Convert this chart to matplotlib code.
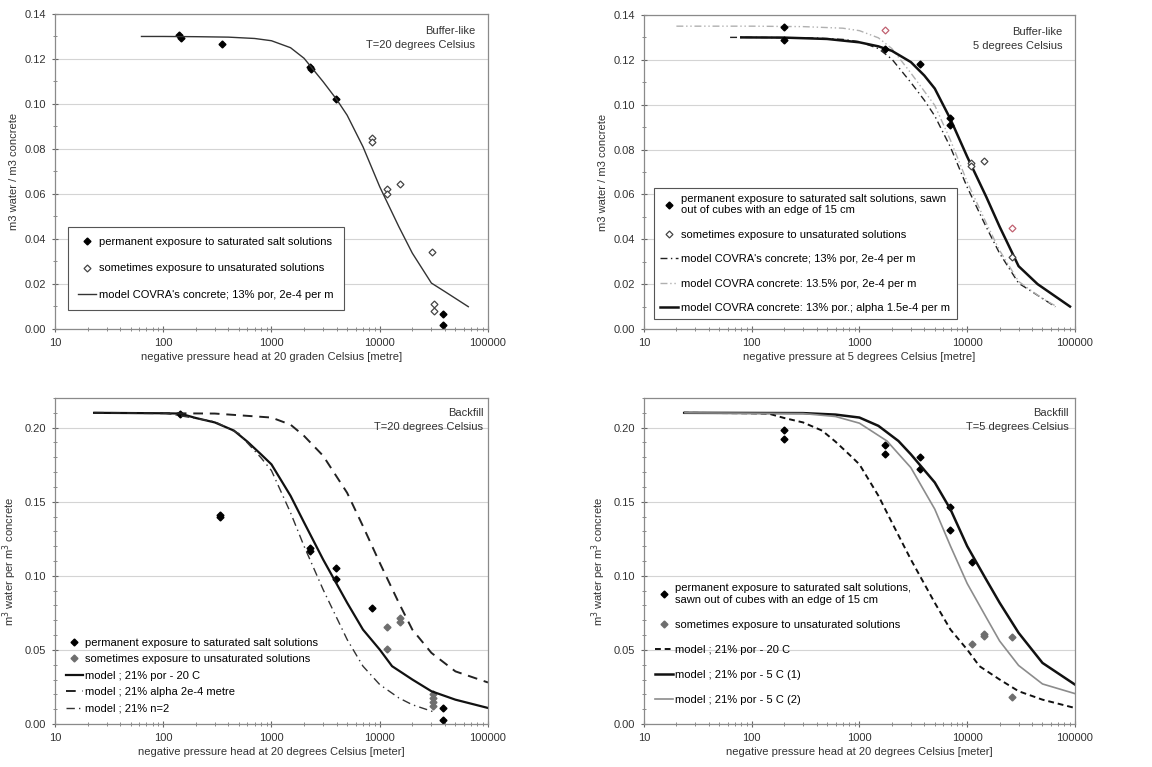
import numpy as np
import matplotlib
matplotlib.use("Agg")
import matplotlib.pyplot as plt
from matplotlib.ticker import FixedLocator, FuncFormatter, MultipleLocator, LogLocator, NullFormatter

plt.rcParams["font.family"] = ["Liberation Sans", "DejaVu Sans"]
plt.rcParams["font.size"] = 8

# --- buffer-like concrete, 20 C ---
tl_perm_h = [140, 146, 347, 2270, 2300, 3945, 38600, 38600]
tl_perm_t = [0.1305, 0.1295, 0.1267, 0.1165, 0.1155, 0.1021, 0.0065, 0.0018]
tl_some_h = [8420, 8420, 11580, 11580, 15380, 30200, 31900, 31900]
tl_some_t = [0.085, 0.083, 0.062, 0.060, 0.0645, 0.0344, 0.011, 0.008]

# model COVRA's concrete; 13% por, 2e-4 per m
m13_h = [63, 100, 200, 400, 700, 1000, 1500, 2000, 3000, 4000, 5000, 7000,
         10000, 15000, 20000, 30000, 40000, 65800]
m13_t = [0.1300, 0.1300, 0.1299, 0.1297, 0.1291, 0.1281, 0.1250, 0.1203, 0.1099,
         0.1020, 0.0950, 0.0810, 0.0632, 0.0455, 0.0337, 0.0204, 0.0166, 0.0099]

# --- buffer-like concrete, 5 C ---
tr_perm_h = [200, 200, 1740, 3670, 6970, 6970]
tr_perm_t = [0.1345, 0.1288, 0.1247, 0.1180, 0.0940, 0.0910]
tr_some_h = [10830, 10830, 14220, 25800]
tr_some_t = [0.0742, 0.0725, 0.0750, 0.0322]
tr_red_h = [1740, 25800]
tr_red_t = [0.1335, 0.0450]

m135_h = [20, 100, 300, 700, 1000, 1500, 2000, 3000, 5000, 7000, 10000, 15000,
          20000, 30000, 50000, 66000]
m135_t = [0.1350, 0.1350, 0.1348, 0.1341, 0.1330, 0.1298, 0.1250, 0.1141, 0.0997,
          0.0841, 0.0656, 0.0473, 0.0350, 0.0212, 0.0135, 0.0103]

m13a_h = [80, 200, 500, 1000, 1500, 2000, 3000, 4000, 5000, 7000, 10000, 15000,
          20000, 30000, 45000, 90000]
m13a_t = [0.1300, 0.1299, 0.1293, 0.1278, 0.1260, 0.1240, 0.1190, 0.1130, 0.1072,
          0.0935, 0.0768, 0.0590, 0.0456, 0.0280, 0.0200, 0.0100]

# --- backfill, 20 C ---
bl_perm_h = [143, 334, 334, 2270, 2270, 3945, 3945, 8530, 38600, 38600]
bl_perm_t = [0.2095, 0.1410, 0.1395, 0.1190, 0.1168, 0.1050, 0.0980, 0.0782, 0.0108, 0.0025]
bl_some_h = [11580, 11580, 15380, 15380, 31300, 31300, 31300, 31300]
bl_some_t = [0.0655, 0.0507, 0.0716, 0.0687, 0.0205, 0.0175, 0.0145, 0.0120]

# model ; 21% por - 20 C
m21_h = [23, 100, 143, 200, 300, 450, 600, 800, 1000, 1500, 2000, 3000, 5000, 7000,
         10000, 13000, 20000, 30000, 50000, 100000]
m21_t = [0.2100, 0.2097, 0.2095, 0.2065, 0.2035, 0.1980, 0.1905, 0.1820, 0.1752,
         0.1540, 0.1360, 0.1110, 0.0818, 0.0637, 0.0502, 0.0390, 0.0300, 0.0221,
         0.0164, 0.0108]

m21a_h = [23, 300, 1000, 1500, 2000, 3000, 5000, 7000, 10000, 15000, 20000, 30000,
          50000, 100000]
m21a_t = [0.2100, 0.2095, 0.2068, 0.2020, 0.1944, 0.1810, 0.1560, 0.1335, 0.1088,
          0.0818, 0.0637, 0.0480, 0.0355, 0.0280]

m21n_h = [100, 300, 500, 800, 1000, 1500, 2000, 3000, 5000, 7000, 10000, 15000,
          20000, 32000]
m21n_t = [0.2100, 0.2040, 0.1960, 0.1797, 0.1710, 0.1426, 0.1200, 0.0907, 0.0570,
          0.0390, 0.0266, 0.0176, 0.0130, 0.0080]

# --- backfill, 5 C ---
br_perm_h = [200, 200, 1740, 1740, 3670, 3670, 6970, 6970, 11070]
br_perm_t = [0.1982, 0.1926, 0.1880, 0.1824, 0.1804, 0.1723, 0.1466, 0.1309, 0.1093]
br_some_h = [11070, 14220, 14220, 25800, 25800]
br_some_t = [0.0543, 0.0605, 0.0595, 0.0588, 0.0180]

m5a_h = [24, 300, 600, 1000, 1500, 2300, 3000, 5000, 7000, 10000, 15000, 20000,
         30000, 50000, 100000]
m5a_t = [0.2100, 0.2098, 0.2088, 0.2068, 0.2012, 0.1910, 0.1820, 0.1630, 0.1448,
         0.1200, 0.0975, 0.0818, 0.0615, 0.0412, 0.0266]

m5b_h = [24, 300, 600, 1000, 1800, 3000, 5000, 7000, 10000, 15000, 20000, 30000,
         50000, 100000]
m5b_t = [0.2100, 0.2095, 0.2075, 0.2030, 0.1910, 0.1730, 0.1450, 0.1200, 0.0948,
         0.0720, 0.0560, 0.0395, 0.0270, 0.0205]

GRID = "#d4d4d4"
SPINE = "#8a8a8a"


def style_axes(ax, ymax, ystep, yminor, xlabel, ylabel):
    ax.set_xscale("log")
    ax.set_xlim(10, 100000)
    ax.set_ylim(0, ymax)
    ax.xaxis.set_major_locator(FixedLocator([10, 100, 1000, 10000, 100000]))
    ax.xaxis.set_major_formatter(FuncFormatter(lambda v, p: "%d" % v))
    ax.xaxis.set_minor_locator(LogLocator(base=10, subs=np.arange(2, 10)))
    ax.xaxis.set_minor_formatter(NullFormatter())
    ax.yaxis.set_major_locator(MultipleLocator(ystep))
    ax.yaxis.set_minor_locator(MultipleLocator(yminor))
    ax.yaxis.set_major_formatter(FuncFormatter(lambda v, p: "%.2f" % v))
    ax.grid(axis="y", which="major", color=GRID, lw=0.8)
    ax.set_axisbelow(True)
    for s in ax.spines.values():
        s.set_color(SPINE)
        s.set_linewidth(0.9)
    ax.tick_params(which="major", direction="inout", length=5, color="#666666",
                   labelsize=8, labelcolor="#333333", pad=4)
    ax.tick_params(which="minor", direction="inout", length=3, color="#777777")
    ax.set_xlabel(xlabel, fontsize=8, color="#333333", labelpad=3)
    ax.set_ylabel(ylabel, fontsize=8, color="#333333", labelpad=4)


fig = plt.figure(figsize=(11.52, 7.67), dpi=100)

ax_tl = fig.add_axes([0.0477, 0.5711, 0.3759, 0.4107])
ax_tr = fig.add_axes([0.5590, 0.5711, 0.3741, 0.4094])
ax_bl = fig.add_axes([0.0477, 0.0561, 0.3759, 0.4250])
ax_br = fig.add_axes([0.5590, 0.0561, 0.3741, 0.4250])

perm_kw = dict(ls="none", marker="D", ms=3.5, color="black")
open_kw = dict(ls="none", marker="D", ms=3.5, mfc="white", mec="#444444", mew=0.9)
grey_kw = dict(ls="none", marker="D", ms=3.5, color="#6e6e6e")

# top left
ax = ax_tl
style_axes(ax, 0.14, 0.02, 0.01,
           "negative pressure head at 20 graden Celsius [metre]",
           "m3 water / m3 concrete")
ax.plot(tl_perm_h, tl_perm_t, label="permanent exposure to saturated salt solutions", **perm_kw)
ax.plot(tl_some_h, tl_some_t, label="sometimes exposure to unsaturated solutions", **open_kw)
ax.plot(m13_h, m13_t, color="#333333", lw=1.0,
        label="model COVRA's concrete; 13% por, 2e-4 per m")
leg = ax.legend(loc="lower left", bbox_to_anchor=(0.018, 0.044), fancybox=False,
                edgecolor="#555555", fontsize=8, labelspacing=1.45, handlelength=1.6,
                handletextpad=0.3, borderpad=0.9, framealpha=1)
leg.get_frame().set_linewidth(0.8)
ax.text(0.97, 0.925, "Buffer-like\nT=20 degrees Celsius", transform=ax.transAxes,
        ha="right", va="center", fontsize=8, color="#333333", linespacing=1.5,
        multialignment="right")

# top right
ax = ax_tr
style_axes(ax, 0.14, 0.02, 0.01,
           "negative pressure at 5 degrees Celsius [metre]",
           "m3 water / m3 concrete")
ax.plot(m13_h, m13_t, color="#222222", lw=1.0, dashes=(5, 2.5, 1, 2.5),
        label="model COVRA's concrete; 13% por, 2e-4 per m")
ax.plot(m135_h, m135_t, color="#b0b0b0", lw=1.0, dashes=(5, 2, 1, 2, 1, 2),
        label="model COVRA concrete: 13.5% por, 2e-4 per m")
ax.plot(m13a_h, m13a_t, color="#111111", lw=1.8,
        label="model COVRA concrete: 13% por.; alpha 1.5e-4 per m")
ax.plot(tr_perm_h, tr_perm_t,
        label="permanent exposure to saturated salt solutions, sawn\nout of cubes with an edge of 15 cm",
        **perm_kw)
ax.plot(tr_some_h, tr_some_t, label="sometimes exposure to unsaturated solutions", **open_kw)
ax.plot(tr_red_h, tr_red_t, ls="none", marker="D", ms=3.5, mfc="white",
        mec="#c06070", mew=0.9)
h, l = ax.get_legend_handles_labels()
order = [3, 4, 0, 1, 2]
leg = ax.legend([h[i] for i in order], [l[i] for i in order], loc="lower left",
                bbox_to_anchor=(0.011, 0.013), fancybox=False, edgecolor="#555555",
                fontsize=8, labelspacing=1.3, handlelength=1.6, handletextpad=0.3,
                borderpad=0.55, framealpha=1)
leg.get_frame().set_linewidth(0.8)
ax.text(0.972, 0.924, "Buffer-like\n5 degrees Celsius", transform=ax.transAxes,
        ha="right", va="center", fontsize=8, color="#333333", linespacing=1.5,
        multialignment="right")

# bottom left
ax = ax_bl
style_axes(ax, 0.22, 0.05, 0.01,
           "negative pressure head at 20 degrees Celsius [meter]",
           "m$^3$ water per m$^3$ concrete")
ax.plot(bl_perm_h, bl_perm_t, label="permanent exposure to saturated salt solutions", **perm_kw)
ax.plot(bl_some_h, bl_some_t, label="sometimes exposure to unsaturated solutions", **grey_kw)
ax.plot(m21_h, m21_t, color="#111111", lw=1.6, label="model ; 21% por - 20 C")
ax.plot(m21a_h, m21a_t, color="#222222", lw=1.4, dashes=(5, 3.5),
        label="model ; 21% alpha 2e-4 metre")
ax.plot(m21n_h, m21n_t, color="#333333", lw=1.0, dashes=(6, 3, 1, 3),
        label="model ; 21% n=2")
ax.legend(loc="lower left", bbox_to_anchor=(0.0, 0.0), frameon=False, fontsize=8,
          labelspacing=0.58, handlelength=1.6, handletextpad=0.15, borderpad=0.45)
ax.text(0.989, 0.934, "Backfill\nT=20 degrees Celsius", transform=ax.transAxes,
        ha="right", va="center", fontsize=8, color="#333333", linespacing=1.5,
        multialignment="right")

# bottom right
ax = ax_br
style_axes(ax, 0.22, 0.05, 0.01,
           "negative pressure head at 20 degrees Celsius [meter]",
           "m$^3$ water per m$^3$ concrete")
ax.plot(br_perm_h, br_perm_t,
        label="permanent exposure to saturated salt solutions,\nsawn out of cubes with an edge of 15 cm",
        **perm_kw)
ax.plot(br_some_h, br_some_t, label="sometimes exposure to unsaturated solutions", **grey_kw)
ax.plot(m21_h, m21_t, color="#111111", lw=1.4, dashes=(3, 2), label="model ; 21% por - 20 C")
ax.plot(m5a_h, m5a_t, color="#111111", lw=1.8, label="model ; 21% por - 5 C (1)")
ax.plot(m5b_h, m5b_t, color="#8c8c8c", lw=1.2, label="model ; 21% por - 5 C (2)")
ax.legend(loc="lower left", bbox_to_anchor=(0.0, 0.025), frameon=False, fontsize=8,
          labelspacing=1.35, handlelength=1.6, handletextpad=0.15, borderpad=0.5)
ax.text(0.985, 0.934, "Backfill\nT=5 degrees Celsius", transform=ax.transAxes,
        ha="right", va="center", fontsize=8, color="#333333", linespacing=1.5,
        multialignment="right")

fig.savefig("out.png", dpi=100)
